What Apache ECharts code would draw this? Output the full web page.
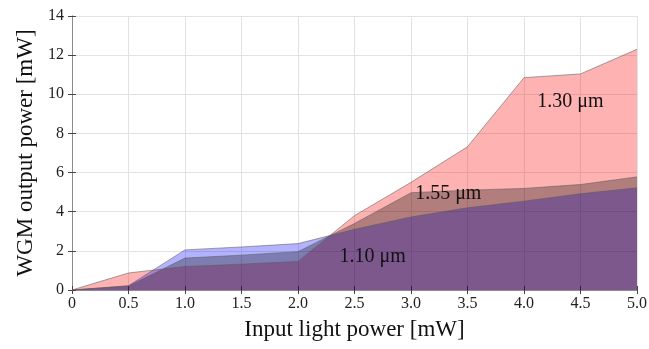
<!DOCTYPE html>
<html>
<head>
<meta charset="utf-8">
<script src="https://cdn.jsdelivr.net/npm/echarts@6/dist/echarts.min.js"></script>
<style>
  html, body { margin: 0; padding: 0; background: #fff; }
  #chart { width: 649px; height: 349px; }
</style>
</head>
<body>
<div id="chart"></div>
<script>
// input light power [mW]
const inputPower = [0, 0.5, 1.0, 1.5, 2.0, 2.5, 3.0, 3.5, 4.0, 4.5, 5.0];
// WGM output power [mW]
const out130 = [0, 0.87, 1.2, 1.32, 1.46, 3.8, 5.5, 7.32, 10.85, 11.04, 12.3];
const out110 = [0, 0.22, 2.05, 2.2, 2.37, 3.1, 3.73, 4.2, 4.54, 4.92, 5.22];
const out155 = [0, 0.2, 1.63, 1.78, 1.96, 3.4, 4.97, 5.1, 5.19, 5.39, 5.78];
const seriesNames = ["1.30 μm", "1.10 μm", "1.55 μm"];
const labelAt = [[4.41, 9.6], [2.66, 1.7], [3.33, 4.9]];

const serif = "Liberation Serif, Times New Roman, serif";
const pairs = (ys) => inputPower.map((x, i) => [x, ys[i]]);

const chart = echarts.init(document.getElementById("chart"));

function areaSeries(name, ys, fill, at) {
  return {
    name: name,
    type: "line",
    data: pairs(ys),
    showSymbol: false,
    silent: true,
    lineStyle: { width: 1, color: "rgba(90,90,90,0.55)" },
    areaStyle: { color: fill, opacity: 1 },
    markPoint: {
      symbol: "circle",
      symbolSize: 0,
      silent: true,
      label: {
        show: true,
        position: "inside",
        formatter: name,
        color: "#111",
        fontSize: 20,
        fontFamily: serif,
      },
      data: [{ coord: at }],
    },
  };
}

const frameAxisX = {
  type: "value",
  min: 0,
  max: 5,
  interval: 0.5,
  axisLine: { show: true, lineStyle: { color: "#8c8c8c", width: 1 } },
  axisTick: { show: true, inside: true, length: 4, lineStyle: { color: "#444" } },
  splitLine: { show: false },
};
const frameAxisY = {
  type: "value",
  min: 0,
  max: 14,
  interval: 2,
  axisLine: { show: true, lineStyle: { color: "#8c8c8c", width: 1 } },
  axisTick: { show: true, inside: true, length: 4, lineStyle: { color: "#444" } },
  splitLine: { show: false },
};

chart.setOption({
  animation: false,
  grid: { left: 72, right: 12, top: 16, bottom: 59, outerBoundsMode: "none" },
  xAxis: [
    Object.assign({}, frameAxisX, {
      position: "bottom",
      name: "Input light power [mW]",
      nameLocation: "middle",
      nameGap: 28,
      nameTextStyle: { color: "#111", fontSize: 23, fontFamily: serif },
      axisLabel: {
        color: "#222",
        fontSize: 16,
        fontFamily: serif,
        margin: 6,
        formatter: (v) => (v === 0 ? "0" : v.toFixed(1)),
      },
      splitLine: { show: true, lineStyle: { color: "#e2e2e2", width: 1 } },
    }),
    Object.assign({}, frameAxisX, {
      position: "top",
      axisLabel: { show: false },
    }),
  ],
  yAxis: [
    Object.assign({}, frameAxisY, {
      position: "left",
      name: "WGM output power [mW]",
      nameLocation: "middle",
      nameGap: 35,
      nameTextStyle: { color: "#111", fontSize: 23, fontFamily: serif },
      axisLabel: { color: "#222", fontSize: 16, fontFamily: serif, margin: 8 },
      splitLine: { show: true, lineStyle: { color: "#e2e2e2", width: 1 } },
    }),
    Object.assign({}, frameAxisY, {
      position: "right",
      axisLabel: { show: false },
    }),
  ],
  series: [
    areaSeries(seriesNames[0], out130, "rgba(255,0,0,0.3)", labelAt[0]),
    areaSeries(seriesNames[1], out110, "rgba(0,0,255,0.3)", labelAt[1]),
    areaSeries(seriesNames[2], out155, "rgba(0,0,0,0.3)", labelAt[2]),
  ],
});
</script>
</body>
</html>
